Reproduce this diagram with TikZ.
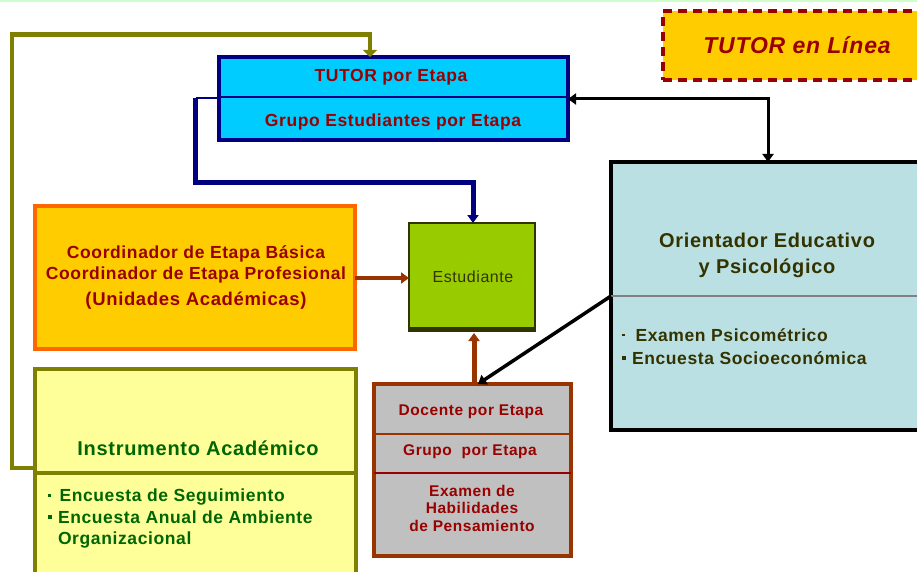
\documentclass[tikz,border=0pt]{standalone}
\usepackage{fontspec}
\setmainfont{Liberation Sans}[LetterSpace=3.5]
\usetikzlibrary{arrows.meta}
\definecolor{navyc}{HTML}{000080}
\definecolor{cyanf}{HTML}{00CCFF}
\definecolor{dred}{HTML}{990000}
\definecolor{olivec}{HTML}{808000}
\definecolor{orangeb}{HTML}{FF6600}
\definecolor{goldf}{HTML}{FFCC00}
\definecolor{paley}{HTML}{FFFF99}
\definecolor{dgreen}{HTML}{006600}
\definecolor{limef}{HTML}{99CC00}
\definecolor{dolive}{HTML}{333300}
\definecolor{greyf}{HTML}{C0C0C0}
\definecolor{brownc}{HTML}{993300}
\definecolor{lblue}{HTML}{BBE0E3}
\definecolor{paleg}{HTML}{CCFFCC}
\newcommand{\fs}[1]{\fontsize{#1}{#1}\selectfont}
\newcommand{\sqb}{\raisebox{0.25em}{\rule{4pt}{4pt}}}
\newcommand{\dotb}{\raisebox{0.3em}{\rule{2.5pt}{2.5pt}}}
\tikzset{
  box/.style={rectangle, inner sep=0pt, outer sep=0pt},
  tx/.style={inner sep=0pt, outer sep=0pt, font=\bfseries},
  arr/.style={-{Triangle[width=11pt,length=8pt]}},
}
\begin{document}
\begin{tikzpicture}[x=1pt,y=-1pt]
\useasboundingbox (0,0) rectangle (917,572);
\clip (0,0) rectangle (917,572);
\fill[paleg] (0,0) rectangle (917,2.5);

% boxes
\node[box, draw=navyc, fill=cyanf, line width=3.5pt, minimum width=349pt, minimum height=83pt] (tutor) at (393.5,98.5) {};
\draw[navyc, line width=1.5pt] (tutor.west |- 0,97) -- (tutor.east |- 0,97);
\node[box, draw=dred, fill=goldf, line width=4pt, dashed, dash pattern=on 9pt off 6pt, minimum width=270pt, minimum height=69pt] (linea) at (798,45.5) {};
\node[box, draw=orangeb, fill=goldf, line width=4pt, minimum width=320pt, minimum height=143pt] (coord) at (195,277.5) {};
\node[box, draw=olivec, fill=paley, line width=3.5pt, minimum width=321pt, minimum height=221pt] (instr) at (195.5,479.5) {};
\draw[olivec, line width=3.5pt] (instr.west |- 0,473) -- (instr.east |- 0,473);
\node[box, draw=dolive, fill=limef, line width=2pt, minimum width=126pt, minimum height=105pt] (estud) at (472,275.5) {};
\draw[dolive, line width=4.5pt] (estud.south west) ++(-1,2) -- ++(128,0);
\node[box, draw=brownc, fill=greyf, line width=4pt, minimum width=197pt, minimum height=172pt] (doc) at (472.5,470) {};
\draw[brownc, line width=2pt] (doc.west |- 0,434) -- (doc.east |- 0,434);
\draw[dred, line width=2pt] (doc.west |- 0,473) -- (doc.east |- 0,473);
\node[box, draw=black, fill=lblue, line width=4pt, minimum width=320pt, minimum height=268pt] (orient) at (771,296) {};
\draw[gray, line width=1.5pt] (orient.west |- 0,296) -- (orient.east |- 0,296);

% texts
\node[tx, text=dred, font=\bfseries\fs{17.5}] (t1) at (391,77) {TUTOR por Etapa};
\node[tx, text=dred, font=\bfseries\fs{17.5}] (t2) at (393,122) {Grupo Estudiantes por Etapa};
\node[tx, text=dred, font=\bfseries\itshape\fs{23}] (t3) at (797,45) {TUTOR en Línea};
\node[tx, text=dred, font=\bfseries\fs{17.5}, align=center] (t4) at (196,277.5) {Coordinador de Etapa Básica\\[4pt]Coordinador de Etapa Profesional\\[8pt]{\fs{18.5}(Unidades Académicas)}};
\node[tx, text=dolive, font=\fs{16}] (t5) at (473,277) {Estudiante};
\node[tx, text=dgreen, font=\bfseries\fs{20}] (t6) at (198,448) {Instrumento Académico};
\node[tx, text=dgreen, font=\bfseries\fs{17.5}, anchor=west, align=left] (t7) at (48,519) {\dotb\hspace{9pt}Encuesta de Seguimiento\\[4pt]\sqb\hspace{6pt}Encuesta Anual de Ambiente\\[4pt]\hspace{10pt}Organizacional};
\node[tx, text=dred, font=\bfseries\fs{15.5}] (t8) at (471,412) {Docente por Etapa};
\node[tx, text=dred, font=\bfseries\fs{15.5}] (t9) at (470,452) {Grupo \ por Etapa};
\node[tx, text=dred, font=\bfseries\fs{15.5}, align=center] (t10) at (472,508) {Examen de\\[2pt]Habilidades\\[2pt]de Pensamiento};
\node[tx, text=dolive, font=\bfseries\fs{20}, align=center] (t11) at (767,255) {Orientador Educativo\\[6pt]y Psicológico};
\node[tx, text=dolive, font=\bfseries\fs{17.5}, anchor=west, align=left] (t12) at (622,346.5) {\dotb\hspace{11pt}Examen Psicométrico\\[5pt]\sqb\hspace{6pt}Encuesta Socioeconómica};

% connectors
\coordinate (oa) at (12,468);
\coordinate (ob) at (12,34.5);
\coordinate (oc) at (370,34.5);
\draw[olivec, line width=4.5pt, -{Triangle[width=14pt,length=7pt]}] (oa -| instr.west) -- (oa) -- (ob) -- (oc) -- (oc |- tutor.north);

\coordinate (na) at (195.5,98);
\coordinate (nb) at (195.5,182.5);
\coordinate (nc) at (473,182.5);
\draw[navyc, line width=2pt] (na -| tutor.west) -- (na);
\draw[navyc, line width=5pt, line join=miter, arr] (na) -- (nb) -- (nc) -- (nc |- estud.north);

\coordinate (ba) at (768,99);
\draw[black, line width=3pt, {Triangle[width=11pt,length=8pt]}-{Triangle[width=11pt,length=8pt]}] (ba -| tutor.east) -- (ba) -- (ba |- orient.north);

\coordinate (ca) at (0,278);
\draw[brownc, line width=4pt, arr] (ca -| coord.east) -- (ca -| estud.west);

\coordinate (da) at (474,0);
\draw[brownc, line width=5pt, arr] (da |- doc.north) -- (da |- 0,333);

\coordinate (ea) at (0,296);
\coordinate (eb) at (478,0);
\draw[black, line width=3.5pt, arr] (orient.west |- ea) -- (eb |- doc.north);
\end{tikzpicture}
\end{document}
